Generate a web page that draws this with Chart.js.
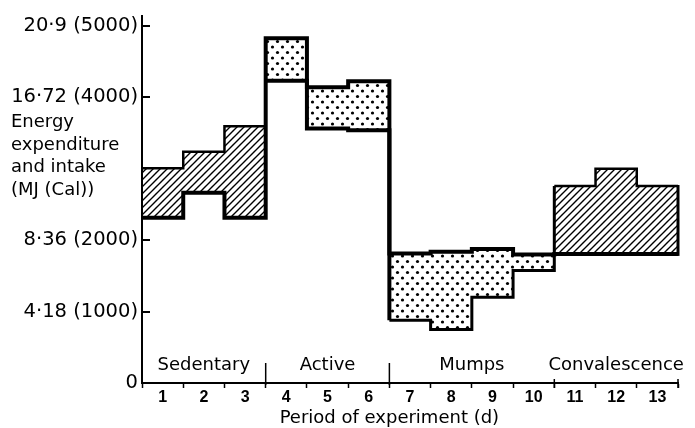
<!DOCTYPE html>
<html>
<head>
<meta charset="utf-8">
<style>
  html, body { margin: 0; padding: 0; background: #fff; }
</style>
</head>
<body>
<canvas id="grafico" width="695" height="428"></canvas>
<script src="https://cdn.jsdelivr.net/npm/chart.js@4/dist/chart.umd.min.js"></script>
<script>
// dias do experimento
const dias = ["1", "2", "3", "4", "5", "6", "7", "8", "9", "10", "11", "12", "13"];

// gasto de energia (MJ) - linha grossa
const gasto = [9.66, 11.12, 9.66, 20.16, 17.30, 17.64, 7.58, 7.68, 7.83, 7.51, 7.55, 7.55, 7.55];

// ingestão de energia (MJ) - linha fina
const ingestao = [12.56, 13.52, 15.02, 17.68, 14.88, 14.78, 3.67, 3.13, 5.02, 6.58, 11.52, 12.53, 11.52];

// períodos
const periodos = ["Sedentary", "Active", "Mumps", "Convalescence"];
const limitesPeriodos = [0, 3, 6, 10, 13];

// eixo y
const yTicks = [0, 4.18, 8.36, 16.72, 20.9];
const yTickLabels = ["0", "4·18 (1000)", "8·36 (2000)", "16·72 (4000)", "20·9 (5000)"];
const tituloY = ["Energy", "expenditure", "and intake", "(MJ (Cal))"];
const tituloX = "Period of experiment (d)";

// ---- padrões de preenchimento ----
function padraoHachura() {
  const s = 7;
  const c = document.createElement("canvas");
  c.width = s; c.height = s;
  const g = c.getContext("2d");
  g.strokeStyle = "#000";
  g.lineWidth = 1.4;
  g.beginPath();
  g.moveTo(-1, s + 1); g.lineTo(s + 1, -1);
  g.moveTo(-1, 1); g.lineTo(1, -1);
  g.moveTo(s - 1, s + 1); g.lineTo(s + 1, s - 1);
  g.stroke();
  return g.createPattern(c, "repeat");
}

function padraoPontos() {
  const w = 10, h = 11;
  const c = document.createElement("canvas");
  c.width = w; c.height = h;
  const g = c.getContext("2d");
  g.fillStyle = "#fff";
  g.fillRect(0, 0, w, h);
  g.fillStyle = "#000";
  [[2.5, 3], [7.5, 8.5]].forEach(([px, py]) => {
    g.beginPath();
    g.arc(px, py, 1.6, 0, Math.PI * 2);
    g.fill();
  });
  return g.createPattern(c, "repeat");
}

// pontos em degrau: dia i ocupa [i-1, i]
function degraus(valores) {
  const pts = valores.map((v, i) => ({ x: i, y: v }));
  pts.push({ x: valores.length, y: valores[valores.length - 1] });
  return pts;
}

const fonteTexto = "DejaVu Sans";

// desenha títulos, rótulos de período e marcas extras
const decoracao = {
  id: "decoracao",
  afterDraw(chart) {
    const { ctx, scales: { x, y } } = chart;
    const base = y.getPixelForValue(0);
    ctx.save();
    ctx.strokeStyle = "#000";
    ctx.fillStyle = "#000";

    // marcas do eixo y para dentro
    ctx.lineWidth = 2;
    yTicks.forEach((v) => {
      const py = Math.round(y.getPixelForValue(v));
      ctx.beginPath();
      ctx.moveTo(x.left, py);
      ctx.lineTo(x.left + 8, py);
      ctx.stroke();
    });

    // borda direita do último bloco
    const n = gasto.length;
    ctx.lineWidth = 3;
    ctx.beginPath();
    ctx.moveTo(x.getPixelForValue(n), y.getPixelForValue(gasto[n - 1]) + 2);
    ctx.lineTo(x.getPixelForValue(n), y.getPixelForValue(ingestao[n - 1]) - 1);
    ctx.stroke();

    // divisórias dos períodos
    ctx.lineWidth = 1.5;
    limitesPeriodos.slice(1).forEach((d) => {
      const px = x.getPixelForValue(d);
      ctx.beginPath();
      if (d === 3 || d === 6) {
        ctx.moveTo(px, base - 20);
        ctx.lineTo(px, base + 2);
      } else {
        ctx.moveTo(px, base - 4);
        ctx.lineTo(px, base + 5);
      }
      ctx.stroke();
    });

    // nomes dos períodos
    ctx.font = `18px "${fonteTexto}"`;
    ctx.textAlign = "center";
    ctx.textBaseline = "alphabetic";
    periodos.forEach((p, i) => {
      const meio = (limitesPeriodos[i] + limitesPeriodos[i + 1]) / 2;
      ctx.fillText(p, x.getPixelForValue(meio), base - 13);
    });

    // título do eixo x
    ctx.fillText(tituloX, x.getPixelForValue(6), 423);

    // título do eixo y (várias linhas)
    ctx.textAlign = "left";
    tituloY.forEach((t, i) => {
      ctx.fillText(t, 11, 127 + i * 22.6);
    });
    ctx.restore();
  },
};

const ctx = document.getElementById("grafico").getContext("2d");

new Chart(ctx, {
  type: "line",
  data: {
    datasets: [
      {
        label: "Gasto",
        data: degraus(gasto),
        borderColor: "#000",
        borderWidth: 4,
        stepped: true,
        pointRadius: 0,
        fill: false,
        borderJoinStyle: "miter",
      },
      {
        label: "Ingestão",
        data: degraus(ingestao),
        borderColor: "#000",
        borderWidth: 2.5,
        stepped: true,
        pointRadius: 0,
        borderJoinStyle: "miter",
        segment: {
          borderWidth: (c) => (c.p0DataIndex >= 3 && c.p0DataIndex <= 5 ? 4 : c.p0DataIndex >= 6 && c.p0DataIndex <= 9 ? 3 : 2.5),
        },
        fill: {
          target: 0,
          above: padraoHachura(),
          below: padraoPontos(),
        },
      },
    ],
  },
  options: {
    responsive: false,
    animation: false,
    devicePixelRatio: 1,
    layout: { padding: { top: 14, right: 17, left: 0, bottom: 0 } },
    plugins: {
      legend: { display: false },
      tooltip: { enabled: false },
    },
    scales: {
      x: {
        type: "linear",
        min: 0,
        max: dias.length,
        afterBuildTicks: (s) => {
          const t = [];
          for (let i = 0; i <= dias.length * 2; i++) t.push({ value: i / 2 });
          s.ticks = t;
        },
        afterFit: (s) => { s.height = 45; },
        ticks: {
          autoSkip: false,
          maxRotation: 0,
          minRotation: 0,
          padding: 0,
          color: "#000",
          font: { family: "'Liberation Sans Narrow', 'Liberation Sans'", weight: "bold", size: 16 },
          callback: (v) => (v % 1 ? dias[v - 0.5] : ""),
        },
        grid: {
          drawOnChartArea: false,
          tickLength: 5,
          tickWidth: 1.5,
          tickColor: (c) => (c.tick && c.tick.value % 1 === 0 ? "#000" : "rgba(0,0,0,0)"),
        },
        border: { display: true, color: "#000", width: 2 },
      },
      y: {
        min: 0,
        max: 21.48,
        afterBuildTicks: (s) => { s.ticks = yTicks.map((v) => ({ value: v })); },
        afterFit: (s) => { s.width = 142; },
        ticks: {
          padding: 4,
          color: "#000",
          font: { family: fonteTexto, size: 19.5 },
          callback: (v) => yTickLabels[yTicks.indexOf(v)],
        },
        grid: { drawOnChartArea: false, drawTicks: false },
        border: { display: true, color: "#000", width: 2 },
      },
    },
  },
  plugins: [decoracao],
});
</script>
</body>
</html>
